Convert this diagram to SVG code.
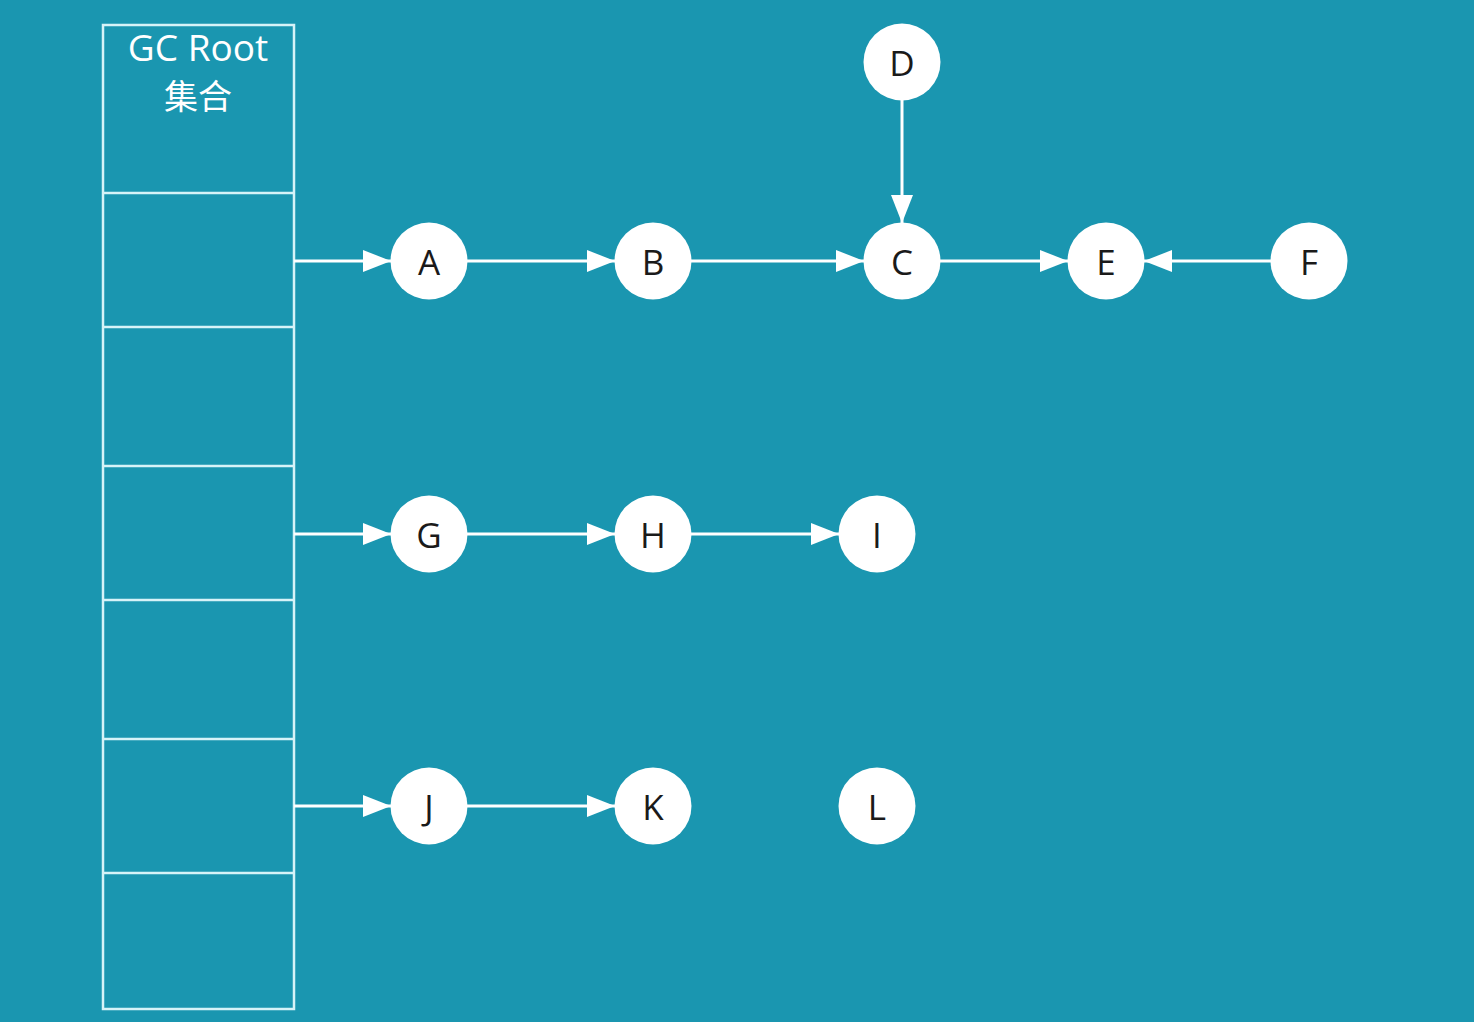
<svg xmlns="http://www.w3.org/2000/svg" width="1474" height="1022" viewBox="0 0 1474 1022">
<defs>
<marker id="ah" markerUnits="userSpaceOnUse" markerWidth="30" markerHeight="24" refX="28" refY="11" orient="auto">
<path d="M0,0 L28,11 L0,22 z" fill="#ffffff"/>
</marker>
</defs>
<style>
.bg{fill:#1a96b0}
.box{fill:none;stroke:#d6f3f8;stroke-width:2.5}
.node circle{fill:#ffffff}
.node text{font-family:"Open Sans","Noto Sans","DejaVu Sans",sans-serif;font-size:35px;fill:#1a1a1a;text-anchor:middle;dominant-baseline:central}
.edge{stroke:#ffffff;stroke-width:3;fill:none;marker-end:url(#ah)}
.title{font-family:"Open Sans","Noto Sans CJK SC",sans-serif;font-size:37px;fill:#ffffff;text-anchor:middle}
</style>
<rect class="bg" x="0" y="0" width="1474" height="1022"/>
<g id="gcroot">
<rect class="box" x="103" y="25" width="191" height="984"/>
<line class="box" x1="103" y1="193" x2="294" y2="193"/>
<line class="box" x1="103" y1="327" x2="294" y2="327"/>
<line class="box" x1="103" y1="466" x2="294" y2="466"/>
<line class="box" x1="103" y1="600" x2="294" y2="600"/>
<line class="box" x1="103" y1="739" x2="294" y2="739"/>
<line class="box" x1="103" y1="873" x2="294" y2="873"/>
<text class="title" x="198" y="61">GC Root</text>
<text class="title" x="198" y="109" style="font-family:'Noto Sans CJK SC',sans-serif;font-size:34px">集合</text>
</g>
<g id="connectors">
<line class="edge" x1="294" y1="261" x2="391" y2="261"/>
<line class="edge" x1="467" y1="261" x2="615" y2="261"/>
<line class="edge" x1="691" y1="261" x2="864" y2="261"/>
<line class="edge" x1="902" y1="100" x2="902" y2="223"/>
<line class="edge" x1="940" y1="261" x2="1068" y2="261"/>
<line class="edge" x1="1271" y1="261" x2="1144" y2="261"/>
<line class="edge" x1="294" y1="534" x2="391" y2="534"/>
<line class="edge" x1="467" y1="534" x2="615" y2="534"/>
<line class="edge" x1="691" y1="534" x2="839" y2="534"/>
<line class="edge" x1="294" y1="806" x2="391" y2="806"/>
<line class="edge" x1="467" y1="806" x2="615" y2="806"/>
</g>
<g id="A" class="node"><circle cx="429" cy="261" r="38.5"/><text x="429" y="261">A</text></g>
<g id="B" class="node"><circle cx="653" cy="261" r="38.5"/><text x="653" y="261">B</text></g>
<g id="C" class="node"><circle cx="902" cy="261" r="38.5"/><text x="902" y="261">C</text></g>
<g id="D" class="node"><circle cx="902" cy="62" r="38.5"/><text x="902" y="62">D</text></g>
<g id="E" class="node"><circle cx="1106" cy="261" r="38.5"/><text x="1106" y="261">E</text></g>
<g id="F" class="node"><circle cx="1309" cy="261" r="38.5"/><text x="1309" y="261">F</text></g>
<g id="G" class="node"><circle cx="429" cy="534" r="38.5"/><text x="429" y="534">G</text></g>
<g id="H" class="node"><circle cx="653" cy="534" r="38.5"/><text x="653" y="534">H</text></g>
<g id="I" class="node"><circle cx="877" cy="534" r="38.5"/><text x="877" y="534">I</text></g>
<g id="J" class="node"><circle cx="429" cy="806" r="38.5"/><text x="429" y="806">J</text></g>
<g id="K" class="node"><circle cx="653" cy="806" r="38.5"/><text x="653" y="806">K</text></g>
<g id="L" class="node"><circle cx="877" cy="806" r="38.5"/><text x="877" y="806">L</text></g>
</svg>
